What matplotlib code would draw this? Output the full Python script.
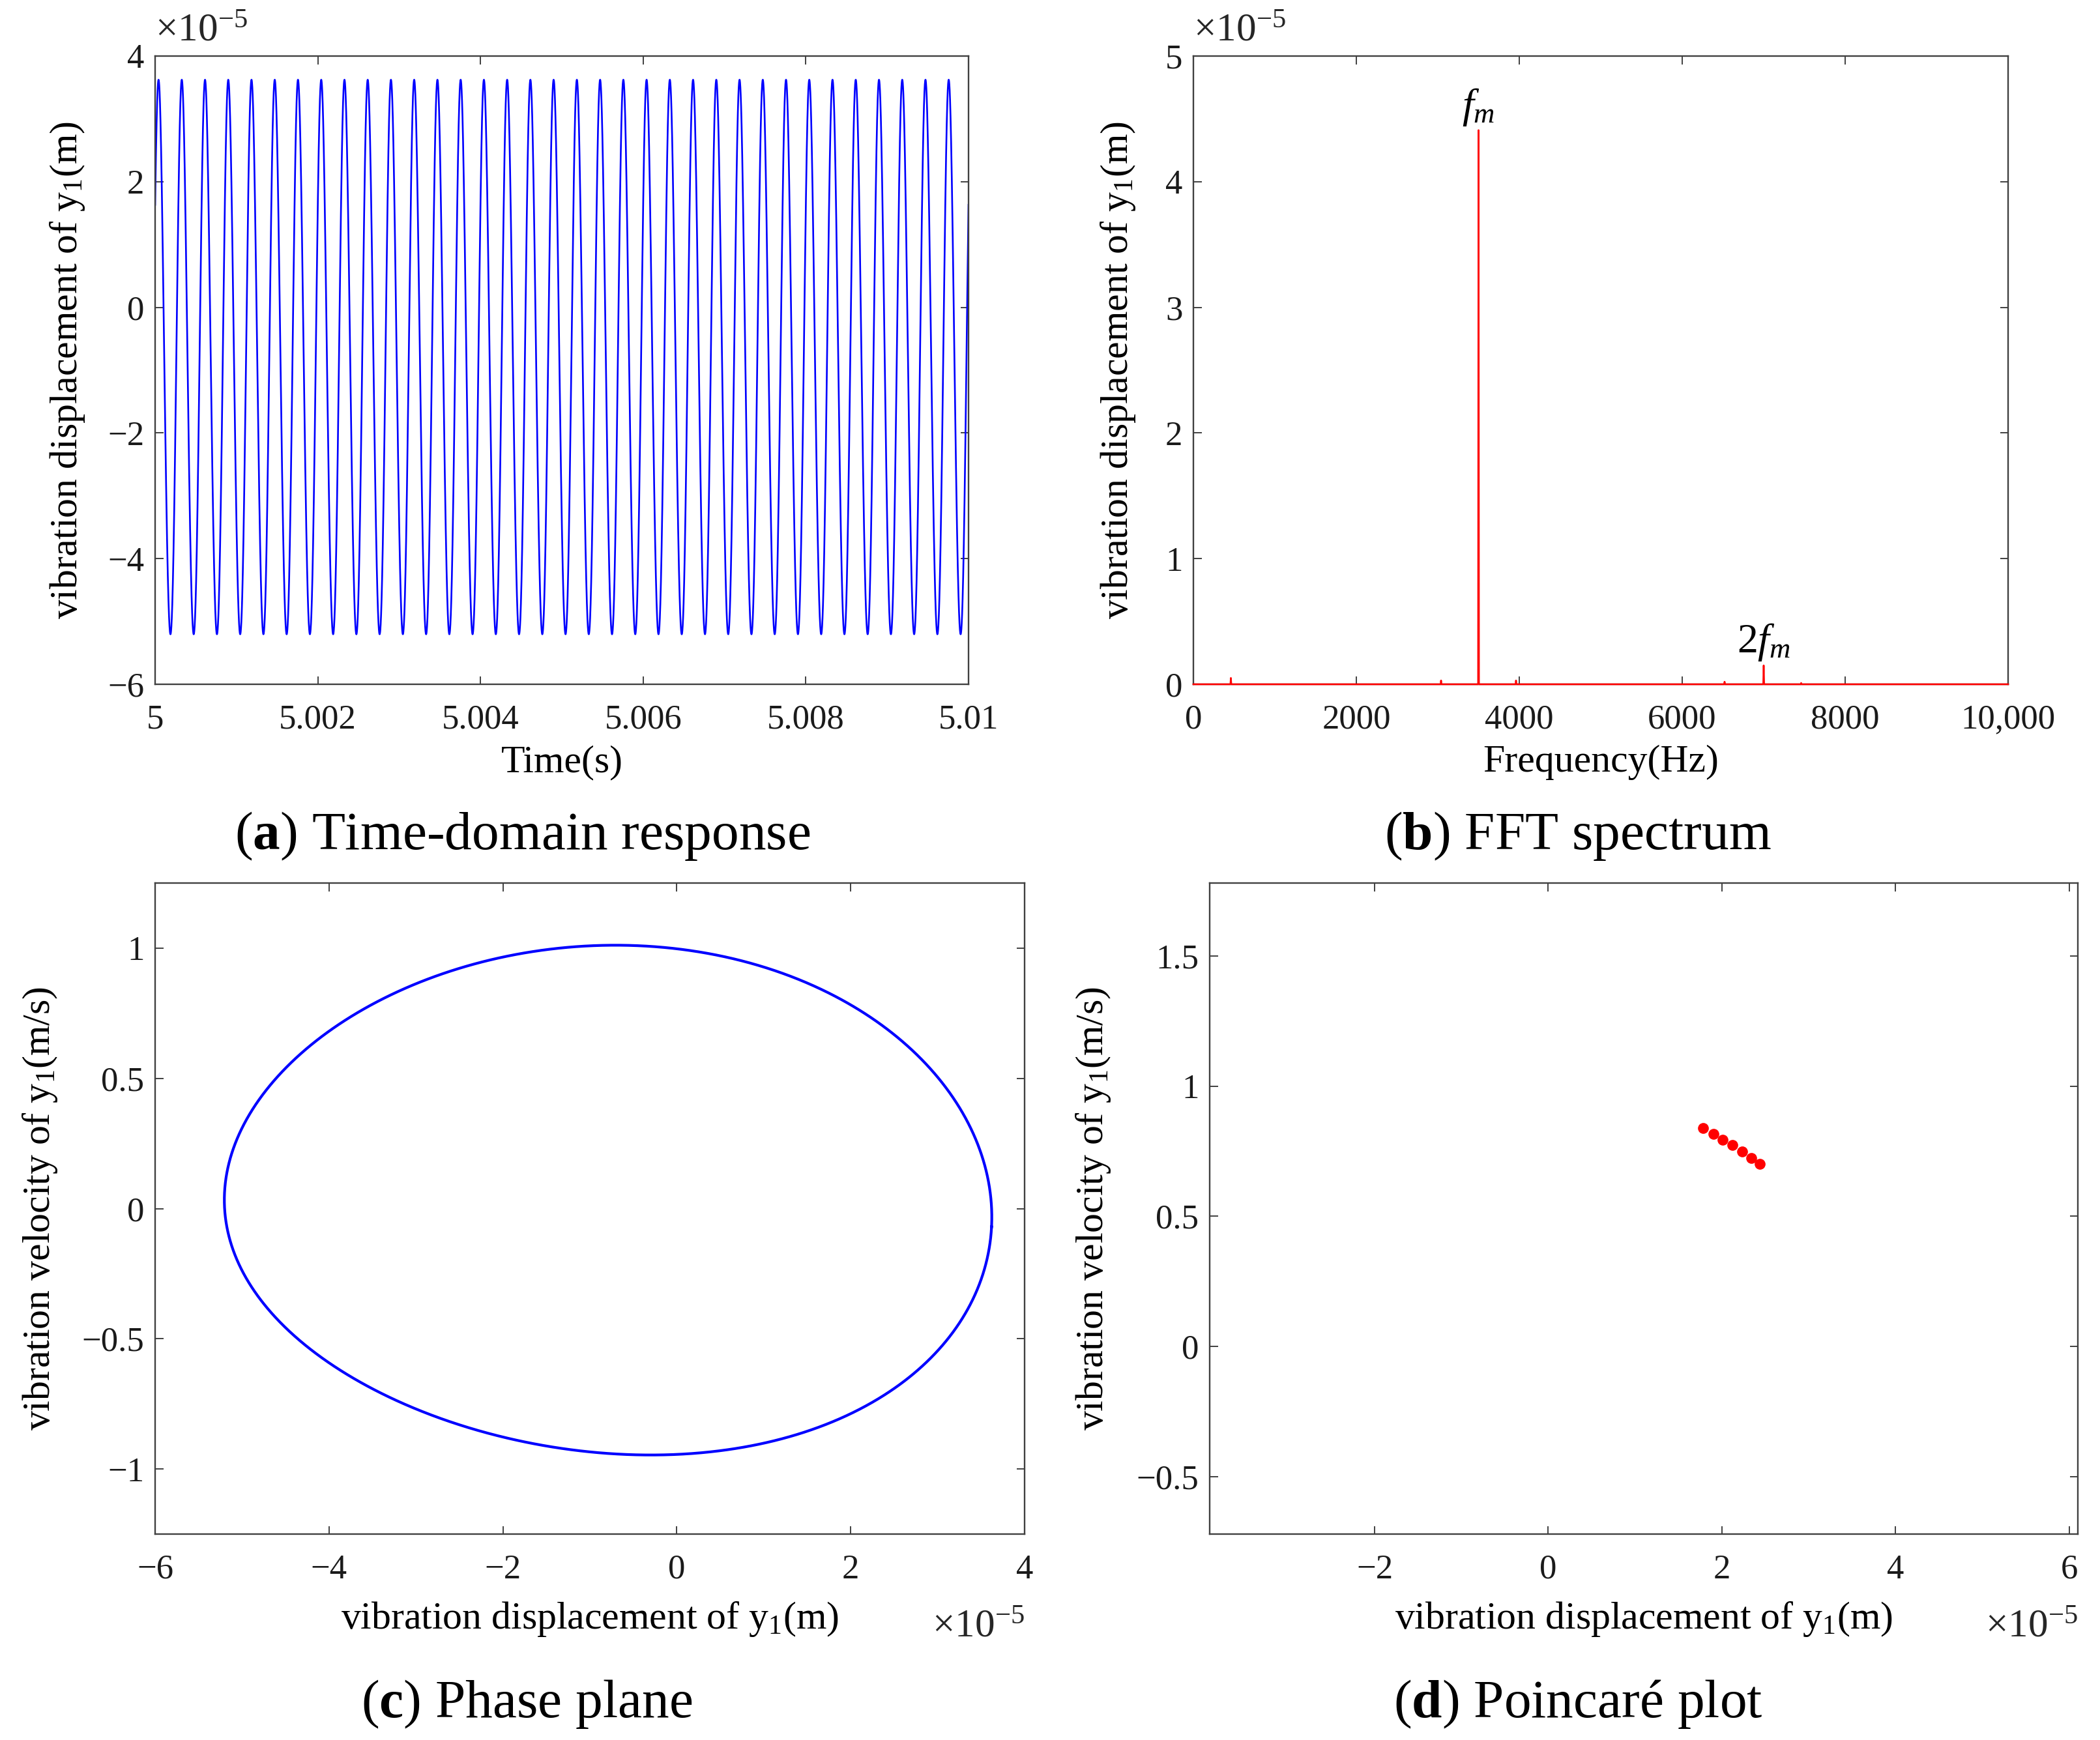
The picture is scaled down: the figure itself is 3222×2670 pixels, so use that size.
import numpy as np
import matplotlib
matplotlib.use("Agg")
import matplotlib.pyplot as plt
from matplotlib.ticker import FixedLocator, FuncFormatter

plt.rcParams['font.family'] = ['Liberation Serif', 'DejaVu Serif']
plt.rcParams['mathtext.fontset'] = 'custom'
plt.rcParams['mathtext.rm'] = 'Liberation Serif'
plt.rcParams['mathtext.it'] = 'Liberation Serif:italic'
plt.rcParams['mathtext.bf'] = 'Liberation Serif:bold'

# ---- data (displacements in units of 1e-5 m) ----
# harmonic content of the steady-state response of y1
mesh_freq = 3500.0           # f_m (Hz)
disp_mean = -0.93
amp_fm = 4.41
amp_2fm_cos = 0.14
amp_2fm_sin = -0.086
phase_start = -0.96          # phase of f_m component at t = 5 s
vel_inphase = -0.033         # small in-phase term seen as tilt of the orbit (m/s)

t_start, t_end = 5.0, 5.01

# FFT spectrum lines (Hz, amplitude)
fft_freqs = [460, 3040, 3500, 3960, 6520, 7000, 7460]
fft_amps = [0.05, 0.03, 4.41, 0.03, 0.02, 0.15, 0.01]

# Poincare section points
poin_x = [1.78, 1.90, 2.01, 2.12, 2.23, 2.34, 2.44]
poin_v = [0.839, 0.817, 0.795, 0.773, 0.749, 0.725, 0.701]

# ---- build series ----
t = np.arange(t_start, t_end + 1e-9, 1e-6)
w = 2 * np.pi * mesh_freq
th = w * (t - t_start) + phase_start
disp = (disp_mean + amp_fm * np.cos(th)
        + amp_2fm_cos * np.cos(2 * th) + amp_2fm_sin * np.sin(2 * th))

th_c = np.linspace(0, 2 * np.pi, 2000)
x_c = (disp_mean + amp_fm * np.cos(th_c)
       + amp_2fm_cos * np.cos(2 * th_c) + amp_2fm_sin * np.sin(2 * th_c))
v_c = w * 1e-5 * (-amp_fm * np.sin(th_c) - 2 * amp_2fm_cos * np.sin(2 * th_c)
                  + 2 * amp_2fm_sin * np.cos(2 * th_c)) + vel_inphase * np.cos(th_c)

f_grid = np.arange(0, 10001, 5)
spec = np.zeros(len(f_grid))
for f, a in zip(fft_freqs, fft_amps):
    spec[np.argmin(np.abs(f_grid - f))] = a

W, H = 3223, 2670
fig = plt.figure(figsize=(W / 100, H / 100), dpi=100)

def box(l, t_, r, b):
    return [l / W, 1 - b / H, (r - l) / W, (b - t_) / H]

tick_fs = 38
lab_fs = 43

def fmt(v, pos):
    s = '%g' % v
    if abs(v) >= 10000:
        s = '{:,}'.format(int(v))
    return s.replace('-', '\u2212')

def style(ax, xt, yt):
    ax.xaxis.set_major_locator(FixedLocator(xt))
    ax.yaxis.set_major_locator(FixedLocator(yt))
    ax.xaxis.set_major_formatter(FuncFormatter(fmt))
    ax.yaxis.set_major_formatter(FuncFormatter(fmt))
    ax.tick_params(direction='in', top=True, right=True, length=9,
                   width=1.4, color='0.25', labelsize=tick_fs,
                   labelcolor='0.1')
    ax.tick_params(axis='x', pad=22)
    ax.tick_params(axis='y', pad=12)
    for s in ax.spines.values():
        s.set_color('0.25')
        s.set_linewidth(1.7)

def sci(ax, x, y, ha):
    ax.text(x, y, r'$\times\mathregular{10}^{-5}$', transform=ax.transAxes,
            fontsize=44, ha=ha, va='center', color='0.15')

# (a) time-domain response
ax1 = fig.add_axes(box(238, 86, 1486, 1050))
ax1.plot(t, disp, color='#0000ff', lw=1.9)
ax1.set_xlim(5, 5.01)
ax1.set_ylim(-6, 4)
style(ax1, [5, 5.002, 5.004, 5.006, 5.008, 5.01], [-6, -4, -2, 0, 2, 4])
ax1.set_xlabel('Time(s)', fontsize=lab_fs)
ax1.set_ylabel('vibration displacement of y$_1$(m)', fontsize=lab_fs)
sci(ax1, 0.0, 1.04, 'left')

# (b) FFT spectrum
ax2 = fig.add_axes(box(1831, 86, 3081, 1050))
ax2.plot(f_grid, spec, color='#ff0000', lw=1.9, clip_on=False, zorder=3)
ax2.set_xlim(0, 10000)
ax2.set_ylim(0, 5)
style(ax2, [0, 2000, 4000, 6000, 8000, 10000], [0, 1, 2, 3, 4, 5])
ax2.set_xlabel('Frequency(Hz)', fontsize=lab_fs)
ax2.set_ylabel('vibration displacement of y$_1$(m)', fontsize=lab_fs)
ax2.text(fft_freqs[2], fft_amps[2] + 0.02, r'$f_m$', fontsize=46,
         ha='center', va='bottom')
ax2.text(fft_freqs[5], fft_amps[5] + 0.02, r'$2f_m$', fontsize=46,
         ha='center', va='bottom')
sci(ax2, 0.0, 1.04, 'left')

# (c) phase plane
ax3 = fig.add_axes(box(238, 1355, 1572, 2354))
ax3.plot(x_c, v_c, color='#0000ff', lw=3.0)
ax3.set_xlim(-6, 4)
ax3.set_ylim(-1.25, 1.25)
style(ax3, [-6, -4, -2, 0, 2, 4], [-1, -0.5, 0, 0.5, 1])
ax3.set_xlabel('vibration displacement of y$_1$(m)', fontsize=lab_fs)
ax3.set_ylabel('vibration velocity of y$_1$(m/s)', fontsize=lab_fs)
sci(ax3, 1.0, -0.143, 'right')

# (d) Poincare plot
ax4 = fig.add_axes(box(1856, 1355, 3188, 2354))
ax4.plot(poin_x, poin_v, 'o', color='#ff0000', ms=12, mec='none')
ax4.set_xlim(-3.9, 6.1)
ax4.set_ylim(-0.72, 1.78)
style(ax4, [-2, 0, 2, 4, 6], [-0.5, 0, 0.5, 1, 1.5])
ax4.set_xlabel('vibration displacement of y$_1$(m)', fontsize=lab_fs)
ax4.set_ylabel('vibration velocity of y$_1$(m/s)', fontsize=lab_fs)
sci(ax4, 1.0, -0.143, 'right')

# label placement
for ax, ylx, xly in [(ax1, -0.108, -0.1245), (ax2, -0.092, -0.1245),
                     (ax3, -0.132, -0.131), (ax4, -0.134, -0.131)]:
    ax.yaxis.set_label_coords(ylx, 0.5)
    ax.xaxis.set_label_coords(0.5, xly)
    ax.yaxis.label.set_va('center')
    ax.xaxis.label.set_va('center')

cap_fs = 60
fig.text(802 / W, 1 - 1283 / H, r'($\mathbf{a}$) Time-domain response',
         fontsize=cap_fs, ha='center', va='center')
fig.text(2421 / W, 1 - 1283 / H, r'($\mathbf{b}$) FFT spectrum',
         fontsize=cap_fs, ha='center', va='center')
fig.text(808 / W, 1 - 2615 / H, r'($\mathbf{c}$) Phase plane',
         fontsize=cap_fs, ha='center', va='center')
fig.text(2421 / W, 1 - 2615 / H, r'($\mathbf{d}$) Poincaré plot',
         fontsize=cap_fs, ha='center', va='center')

fig.savefig('out.png', dpi=100, facecolor='white')
